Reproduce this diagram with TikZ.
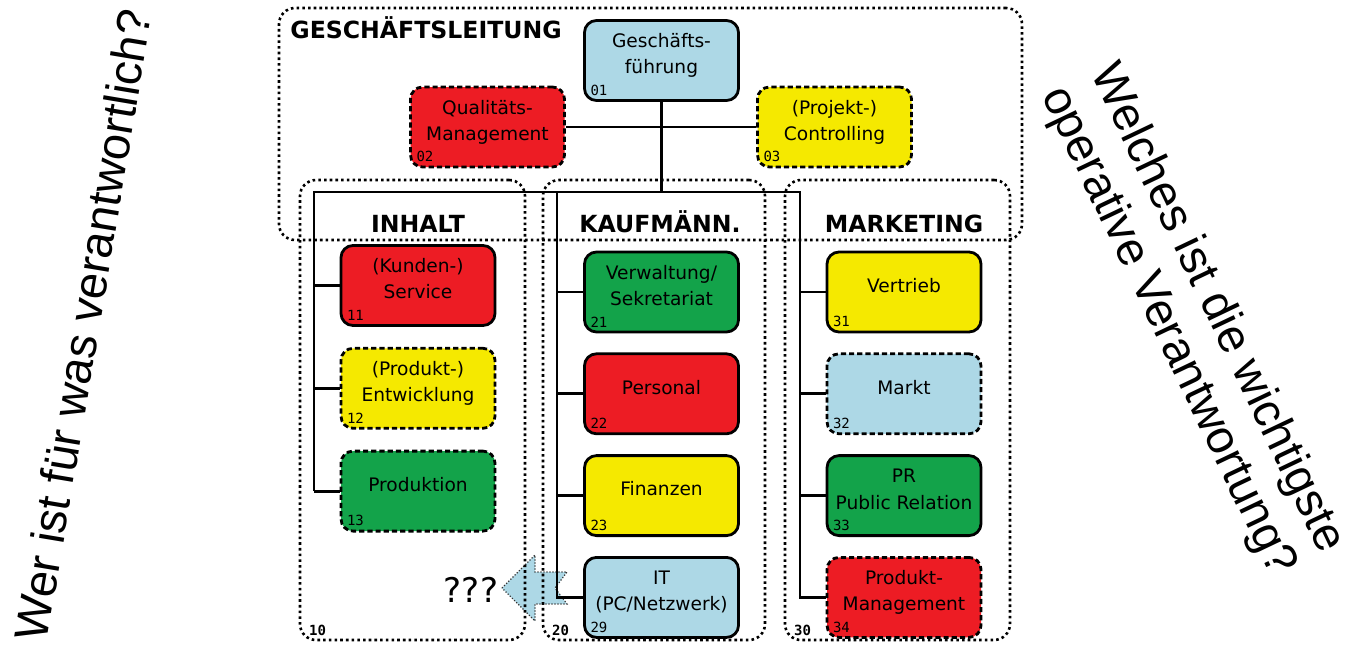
\documentclass[tikz,border=0pt]{standalone}
\usepackage{fontspec}
\setmainfont{DejaVu Sans}
\newfontfamily\nrfont{DejaVu Sans Mono}
\newfontfamily\askfont{Liberation Sans}
\usetikzlibrary{positioning}

\definecolor{orgred}{RGB}{237,28,36}
\definecolor{orgyellow}{RGB}{245,233,0}
\definecolor{orggreen}{RGB}{19,163,74}
\definecolor{orgblue}{RGB}{173,216,230}

\newcommand{\boxtext}[1]{\raisebox{0pt}[\height][\dimexpr\depth+5pt\relax]{\begin{tabular}{@{}c@{}}#1\end{tabular}}}

\begin{document}
\begin{tikzpicture}[x=0.5pt, y=-0.5pt,
    orgbox/.style={rectangle, rounded corners=6pt, draw=black, line width=1.4pt,
      minimum width=77pt, minimum height=40pt, inner sep=0pt,
      font=\fontsize{9.3}{13.2}\selectfont},
    rot/.style={orgbox, fill=orgred},
    gelb/.style={orgbox, fill=orgyellow},
    gruen/.style={orgbox, fill=orggreen},
    blau/.style={orgbox, fill=orgblue},
    offen/.style={dash pattern=on 2.6pt off 1.5pt},
    nr/.style={anchor=south west, inner xsep=3.5pt, inner ysep=3pt, font=\fontsize{7}{7}\nrfont},
    grpnr/.style={nr, inner xsep=5pt, inner ysep=2.5pt, font=\fontsize{7}{7}\nrfont\bfseries},
    group/.style={rectangle, rounded corners=8pt, draw=black, line width=1.3pt,
      dash pattern=on 1.3pt off 1.55pt, inner sep=0pt},
    grptitle/.style={font=\fontsize{11.8}{12}\selectfont\bfseries, inner sep=0pt, anchor=base},
    conn/.style={line width=1.4pt},
    ask/.style={font=\fontsize{23.5}{27}\askfont, align=center, inner sep=0pt}
  ]
  \useasboundingbox (0,0) rectangle (1356,644);

  % block arrow towards the question
  \draw[line width=0.6pt, dash pattern=on 0.6pt off 0.9pt, draw=black!80, fill=orgblue]
    (502,588) -- (535,555) -- (535,572) -- (567,572) -- (555,588)
    -- (567,604) -- (535,604) -- (535,621) -- cycle;
  \node[font=\fontsize{17}{18}\selectfont, inner sep=0pt] (frage) at (471,590) {???};

  % groups
  \node[group, minimum width=371.5pt, minimum height=116pt] (gl) at (650.5,124) {};
  \node[grptitle, anchor=base west] (tgl) at (290,38) {GESCHÄFTSLEITUNG};
  \node[group, minimum width=112.5pt, minimum height=230pt,
    label={[grpnr]south west:10}] (inhalt) at (412.5,410) {};
  \node[group, minimum width=111pt, minimum height=230pt,
    label={[grpnr]south west:20}] (kaufm) at (654,410) {};
  \node[group, minimum width=112.5pt, minimum height=230pt,
    label={[grpnr]south west:30}] (marketing) at (897.5,410) {};
  \node[grptitle] (tinhalt) at (418,232) {INHALT};
  \node[grptitle] (tkaufm) at (660,232) {KAUFMÄNN.};
  \node[grptitle] (tmarketing) at (904,232) {MARKETING};

  % Geschaeftsleitung
  \node[blau, label={[nr]south west:01}] (gf) at (661.5,60.5) {\boxtext{Geschäfts-\\führung}};
  \node[rot, offen, label={[nr]south west:02}] (qm) at (487.5,127) {\boxtext{Qualitäts-\\Management}};
  \node[gelb, offen, label={[nr]south west:03}] (ctrl) at (834.5,127) {\boxtext{(Projekt-)\\Controlling}};

  % Inhalt
  \node[rot, label={[nr]south west:11}] (service) at (418,285.5) {\boxtext{(Kunden-)\\Service}};
  \node[gelb, offen, below=10pt of service, label={[nr]south west:12}] (entw) {\boxtext{(Produkt-)\\Entwicklung}};
  \node[gruen, offen, below=10pt of entw, label={[nr]south west:13}] (produktion) {\boxtext{Produktion}};

  % Kaufmaennisch
  \node[gruen, label={[nr]south west:21}] (verw) at (661.5,292) {\boxtext{Verwaltung/\\Sekretariat}};
  \node[rot, below=9.5pt of verw, label={[nr]south west:22}] (pers) {\boxtext{Personal}};
  \node[gelb, below=9.5pt of pers, label={[nr]south west:23}] (fin) {\boxtext{Finanzen}};
  \node[blau, below=9.5pt of fin, label={[nr]south west:29}] (it) {\boxtext{IT\\(PC/Netzwerk)}};

  % Marketing
  \node[gelb, label={[nr]south west:31}] (vertrieb) at (904,292) {\boxtext{Vertrieb}};
  \node[blau, offen, below=9.5pt of vertrieb, label={[nr]south west:32}] (markt) {\boxtext{Markt}};
  \node[gruen, below=9.5pt of markt, label={[nr]south west:33}] (pr) {\boxtext{PR\\Public Relation}};
  \node[rot, offen, below=9.5pt of pr, label={[nr]south west:34}] (pm) {\boxtext{Produkt-\\Management}};

  % connections
  \coordinate (busl) at (314,192);
  \coordinate (busm) at (557,192);
  \coordinate (busr) at (800,192);
  \draw[conn] (qm.east) -- (ctrl.west);
  \draw[conn] (gf.south) -- (gf.south |- busl);
  \draw[conn] (busl |- produktion.west) -- (busl) -- (busr) |- (pm.west);
  \draw[conn] (busm) |- (it.west);
  \foreach \b in {service, entw, produktion}
    \draw[conn] (busl |- \b.west) -- (\b.west);
  \foreach \b in {verw, pers, fin}
    \draw[conn] (busm |- \b.west) -- (\b.west);
  \foreach \b in {vertrieb, markt, pr}
    \draw[conn] (busr |- \b.west) -- (\b.west);

  % questions
  \node[ask, rotate=80.5] (wer) at (83,325) {Wer ist für was verantwortlich?};
  \node[ask, rotate=-64.5] (welches) at (1192,320) {Welches ist die wichtigste\\operative Verantwortung?};
\end{tikzpicture}
\end{document}
